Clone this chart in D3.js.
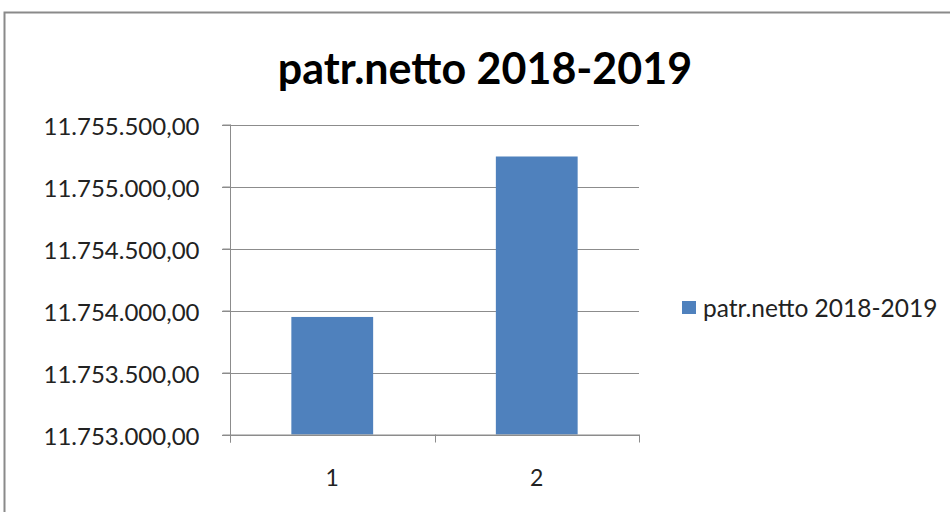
<!DOCTYPE html>
<html>
<head>
<meta charset="utf-8">
<script src="https://cdn.jsdelivr.net/npm/d3@7"></script>
<style>
  body { margin: 0; background: #fff; }
  text { font-family: Lato, "Open Sans", sans-serif; }
</style>
</head>
<body>
<svg width="950" height="512"></svg>
<script>
// data
var categories = ["1", "2"];
var values = [11753948, 11755242];
var seriesName = "patr.netto 2018-2019";
var yTicks = [11753000, 11753500, 11754000, 11754500, 11755000, 11755500];

var svg = d3.select("svg");

// chart frame (right/bottom cut off in the picture)
svg.append("rect")
    .attr("x", 4.5).attr("y", 12.5)
    .attr("width", 960).attr("height", 520)
    .attr("fill", "#fff").attr("stroke", "#8a8a8a").attr("stroke-width", 2);

var plot = { left: 230, right: 639, top: 124.5, bottom: 434.5 };

var x = d3.scaleBand()
    .domain(categories)
    .range([plot.left, plot.right])
    .paddingInner(0.6).paddingOuter(0.3);

var y = d3.scaleLinear()
    .domain([11753000, 11755500])
    .range([plot.bottom, plot.top]);

// italian number format
var it = d3.formatLocale({ decimal: ",", thousands: ".", grouping: [3], currency: ["", ""] });
var fmt = it.format(",.2f");

// gridlines
svg.append("g")
    .selectAll("line")
    .data(yTicks).enter().append("line")
    .attr("x1", plot.left - 8).attr("x2", plot.right)
    .attr("y1", d => Math.round(y(d)) + 0.5).attr("y2", d => Math.round(y(d)) + 0.5)
    .attr("stroke", "#8c8c8c").attr("stroke-width", 1);

// bars
svg.append("g")
    .selectAll("rect")
    .data(values).enter().append("rect")
    .attr("x", (d, i) => x(categories[i]))
    .attr("y", d => y(d))
    .attr("width", x.bandwidth())
    .attr("height", d => plot.bottom - y(d))
    .attr("fill", "#4f81bd");

// y axis
var yAxis = svg.append("g")
    .attr("transform", "translate(" + (plot.left + 0.5) + ",0)")
    .call(d3.axisLeft(y).tickValues(yTicks).tickFormat(fmt).tickSize(8).tickPadding(23));
yAxis.select(".domain").attr("stroke", "#8c8c8c").attr("d", "M0," + plot.top + "V" + (plot.bottom + 8));
yAxis.selectAll(".tick line").attr("stroke", "#8c8c8c");
yAxis.selectAll(".tick text")
    .attr("fill", "#222").attr("dy", "0.42em")
    .style("font-size", "24px")
    .style("font-family", "Lato, sans-serif");

// x axis (ticks at category boundaries)
var xg = svg.append("g");
xg.append("line")
    .attr("x1", plot.left).attr("x2", plot.right)
    .attr("y1", plot.bottom + 0.5).attr("y2", plot.bottom + 0.5)
    .attr("stroke", "#8c8c8c");
var bounds = [plot.left, (plot.left + plot.right) / 2, plot.right];
xg.selectAll(".xt")
    .data(bounds).enter().append("line")
    .attr("x1", d => Math.round(d) + 0.5).attr("x2", d => Math.round(d) + 0.5)
    .attr("y1", plot.bottom).attr("y2", plot.bottom + 8)
    .attr("stroke", "#8c8c8c");
xg.selectAll("text")
    .data(categories).enter().append("text")
    .attr("x", d => x(d) + x.bandwidth() / 2)
    .attr("y", 486)
    .attr("text-anchor", "middle")
    .attr("fill", "#222").style("font-size", "23px")
    .text(d => d);

// title
svg.append("text")
    .attr("x", 485).attr("y", 84)
    .attr("text-anchor", "middle")
    .attr("fill", "#000")
    .style("font-size", "43px").style("font-weight", "bold")
    .text(seriesName);

// legend
var lg = svg.append("g").attr("transform", "translate(682,301)");
lg.append("rect").attr("width", 14).attr("height", 13).attr("fill", "#4f81bd");
lg.append("text")
    .attr("x", 21).attr("y", 16)
    .attr("fill", "#222").style("font-size", "24.5px")
    .text(seriesName);
</script>
</body>
</html>
